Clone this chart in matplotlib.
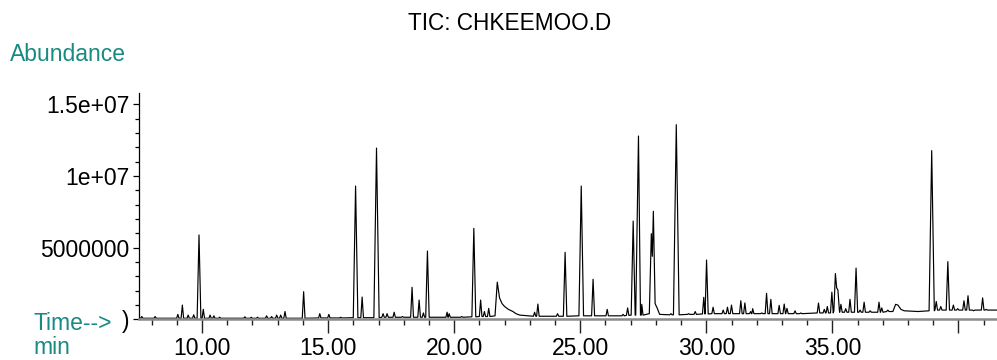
import numpy as np
import matplotlib
matplotlib.use("Agg")
import matplotlib.pyplot as plt
from matplotlib.ticker import FixedLocator, FixedFormatter, MultipleLocator

# --- Peak table (retention time in min, abundance in 1e6 counts) ---
peak_rt = [7.61, 8.14, 9.04, 9.22, 9.45, 9.67, 9.88, 10.05, 10.32, 10.47, 10.70,
           11.70, 11.95, 12.20, 12.56, 12.76, 12.96, 13.12, 13.29, 14.03, 14.67, 15.03, 15.50,
           16.09, 16.35, 16.92, 17.18, 17.34, 17.62, 17.95, 18.33, 18.61, 18.78, 18.94,
           19.72, 19.80, 20.30, 20.78, 21.05, 21.20, 21.37,
           23.19, 23.32, 24.10, 24.40, 25.04, 25.51, 26.07, 26.70, 26.88,
           27.10, 27.31, 27.44, 28.60, 28.81, 29.30, 29.56, 29.90, 30.01, 30.27,
           30.67, 30.84, 31.00, 31.37, 31.53, 31.76, 31.84, 32.20, 32.39, 32.56,
           32.89, 33.09, 33.20, 33.52, 33.75, 34.45, 34.68, 34.80, 34.98,
           35.34, 35.53, 35.70, 35.94, 36.10, 36.26, 36.50, 36.85, 36.96, 37.20,
           38.94, 39.12, 39.30, 39.58, 39.80, 39.97, 40.22, 40.38, 40.60, 40.96, 41.10]
peak_abund = [0.20, 0.20, 0.35, 1.00, 0.30, 0.32, 5.89, 0.70, 0.30, 0.25, 0.15,
              0.18, 0.15, 0.15, 0.25, 0.20, 0.30, 0.30, 0.55, 1.93, 0.40, 0.35, 0.15,
              9.30, 1.56, 11.95, 0.40, 0.40, 0.50, 0.20, 2.24, 1.35, 0.45, 4.77,
              0.50, 0.40, 0.20, 6.35, 1.35, 0.55, 0.77,
              0.50, 1.07, 0.40, 4.68, 9.30, 2.80, 0.70, 0.35, 0.80,
              6.86, 12.79, 1.05, 0.40, 13.58, 0.40, 0.55, 1.54, 4.14, 0.85,
              0.65, 0.85, 1.00, 1.30, 1.15, 0.55, 0.75, 0.45, 1.82, 1.40,
              0.98, 1.07, 0.77, 0.60, 0.45, 1.14, 0.70, 0.90, 1.90,
              1.05, 0.75, 1.40, 3.58, 0.65, 1.20, 0.60, 1.20, 0.80, 0.65,
              11.77, 1.25, 0.90, 4.03, 1.00, 0.75, 1.30, 1.65, 0.60, 1.50, 0.70]
peak_base = [0.08, 0.08, 0.08, 0.08, 0.08, 0.08, 0.08, 0.08, 0.08, 0.08, 0.08,
             0.08, 0.08, 0.08, 0.08, 0.08, 0.08, 0.08, 0.08, 0.08, 0.10, 0.10, 0.10,
             0.12, 0.12, 0.12, 0.15, 0.15, 0.15, 0.15, 0.15, 0.15, 0.15, 0.15,
             0.15, 0.15, 0.15, 0.18, 0.20, 0.20, 0.20,
             0.22, 0.22, 0.22, 0.22, 0.25, 0.25, 0.25, 0.25, 0.28,
             0.30, 0.30, 0.30, 0.32, 0.32, 0.35, 0.35, 0.38, 0.38, 0.40,
             0.40, 0.40, 0.40, 0.40, 0.40, 0.40, 0.40, 0.40, 0.40, 0.40,
             0.40, 0.40, 0.40, 0.40, 0.40, 0.45, 0.45, 0.45, 0.45,
             0.50, 0.50, 0.50, 0.50, 0.50, 0.50, 0.50, 0.50, 0.50, 0.55,
             0.60, 0.65, 0.65, 0.65, 0.65, 0.65, 0.65, 0.65, 0.65, 0.65, 0.65]

# --- Extra trace points (run ends, tailing / fused peaks) ---
extra_rt = [7.50, 21.62, 21.71, 21.80, 21.90, 22.00, 22.15, 22.33, 22.45, 22.60,
            27.74, 27.82, 27.86, 27.90, 27.97, 28.05, 28.15,
            35.06, 35.12, 35.17, 35.22, 35.28,
            37.40, 37.51, 37.60, 37.72, 37.85, 38.40, 41.53]
extra_abund = [0.08, 0.25, 2.60, 1.50, 1.10, 0.90, 0.70, 0.55, 0.40, 0.30,
               0.40, 5.98, 4.40, 7.54, 1.10, 0.80, 0.35,
               0.60, 3.20, 2.20, 2.05, 0.60,
               0.55, 1.05, 1.00, 0.70, 0.60, 0.55, 0.65]

xtick_major = [10, 15, 20, 25, 30, 35, 40]
xtick_labels = ["10.00", "15.00", "20.00", "25.00", "30.00", "35.00", ""]
ytick_major = [0, 5e6, 1e7, 1.5e7]
ytick_labels = [")", "5000000", "1e+07", "1.5e+07"]

teal = "#178a82"
plt.rcParams["font.family"] = ["Liberation Sans", "DejaVu Sans"]
plt.rcParams["font.size"] = 16.5

# --- Build the trace: each peak drawn as apex between two base points ---
pts = []
for rt, a, b in zip(peak_rt, peak_abund, peak_base):
    hw = 0.045 + 0.005 * a
    pts += [(rt - hw, b), (rt, a), (rt + hw, b)]
pts += list(zip(extra_rt, extra_abund))
pts.sort(key=lambda p: p[0])
trace_t = np.array([p[0] for p in pts])
trace_y = np.array([p[1] for p in pts]) * 1e6

fig = plt.figure(figsize=(9.97, 3.6), dpi=100)
ax = fig.add_axes([139 / 997, 1 - 319.4 / 360, 1 - 139 / 997, (319.4 - 93.3) / 360])
ax.plot(trace_t, trace_y, color="black", lw=0.85)

ax.set_xlim(7.5, 41.53)
ax.set_ylim(0, 1.577e7)

for s in ["top", "right"]:
    ax.spines[s].set_visible(False)
ax.spines["bottom"].set_color("#8a8a8a")
ax.spines["bottom"].set_linewidth(1.8)
ax.spines["left"].set_color("black")
ax.spines["left"].set_linewidth(0.9)

ax.xaxis.set_major_locator(FixedLocator(xtick_major))
ax.xaxis.set_major_formatter(FixedFormatter(xtick_labels))
ax.xaxis.set_minor_locator(MultipleLocator(1))
ax.yaxis.set_major_locator(FixedLocator(ytick_major))
ax.yaxis.set_major_formatter(FixedFormatter(ytick_labels))
ax.yaxis.set_minor_locator(MultipleLocator(1e6))

ax.tick_params(axis="x", which="major", length=10, width=1, color="#222222", pad=3, labelsize=16.5)
ax.tick_params(axis="x", which="minor", length=4.5, width=1, color="#222222")
ax.tick_params(axis="y", which="major", length=4, width=0.9, pad=3, labelsize=16.5)
ax.tick_params(axis="y", which="minor", length=3, width=0.9)

fig.text(510 / 997, 1 - 23.5 / 360, "TIC: CHKEEMOO.D", ha="center", va="center", fontsize=16.3)
fig.text(10 / 997, 1 - 61 / 360, "Abundance", color=teal, ha="left", va="baseline", fontsize=16.5)
fig.text(33 / 997, 1 - 330 / 360, "Time-->", color=teal, ha="left", va="baseline", fontsize=16.5)
fig.text(33 / 997, 1 - 354 / 360, "min", color=teal, ha="left", va="baseline", fontsize=16.5)

fig.savefig("out.png", dpi=100)
